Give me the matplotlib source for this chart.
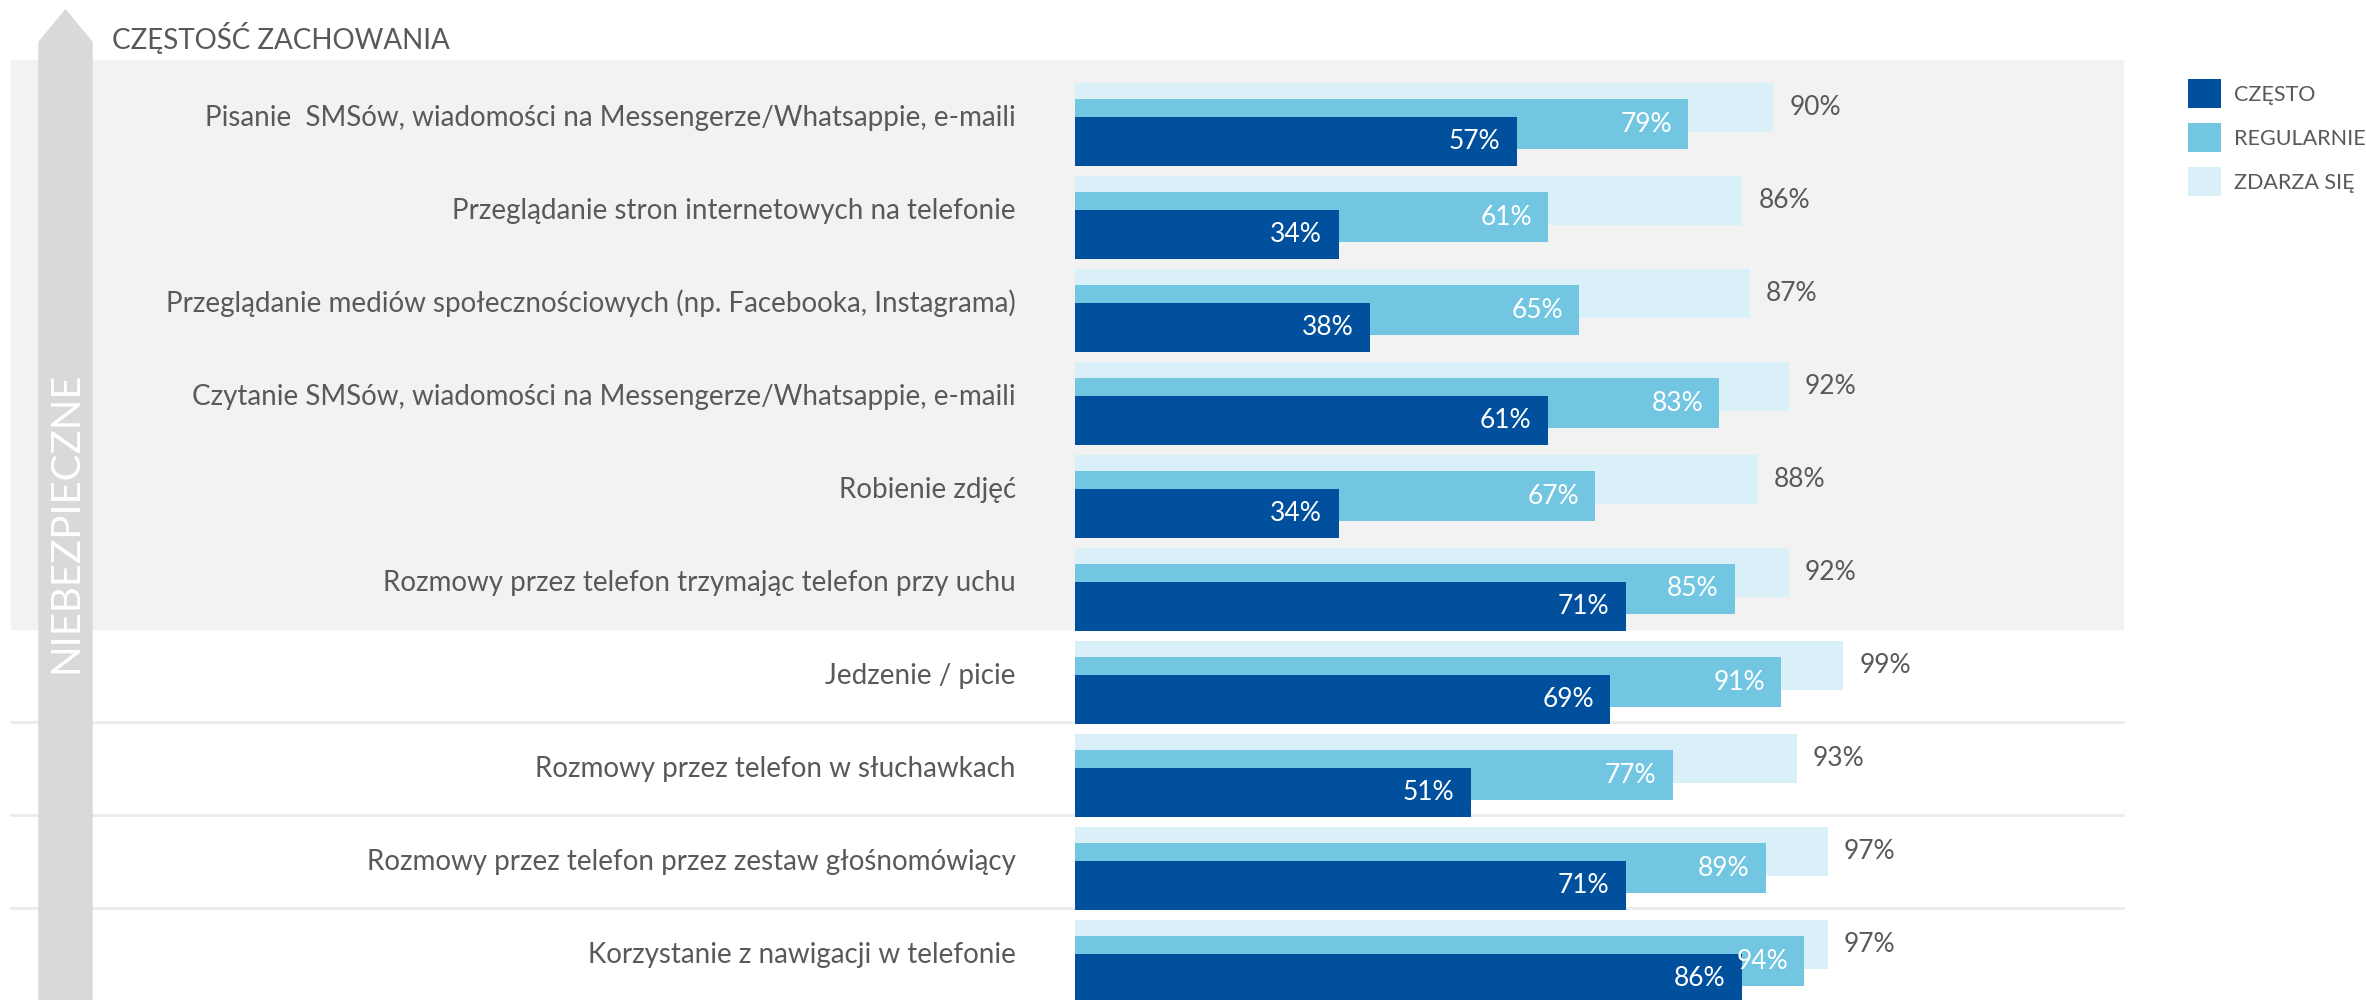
import numpy as np
import matplotlib
matplotlib.use("Agg")
import matplotlib.pyplot as plt
from matplotlib.patches import Rectangle, Polygon
from matplotlib.transforms import blended_transform_factory

# dane z wykresu (procent kierowców)
czynnosci = [
    "Pisanie  SMSów, wiadomości na Messengerze/Whatsappie, e-maili",
    "Przeglądanie stron internetowych na telefonie",
    "Przeglądanie mediów społecznościowych (np. Facebooka, Instagrama)",
    "Czytanie SMSów, wiadomości na Messengerze/Whatsappie, e-maili",
    "Robienie zdjęć",
    "Rozmowy przez telefon trzymając telefon przy uchu",
    "Jedzenie / picie",
    "Rozmowy przez telefon w słuchawkach",
    "Rozmowy przez telefon przez zestaw głośnomówiący",
    "Korzystanie z nawigacji w telefonie",
]
czesto = [57, 34, 38, 61, 34, 71, 69, 51, 71, 86]
regularnie = [79, 61, 65, 83, 67, 85, 91, 77, 89, 94]
zdarza_sie = [90, 86, 87, 92, 88, 92, 99, 93, 97, 97]
serie = ["CZĘSTO", "REGULARNIE", "ZDARZA SIĘ"]

# kolory
ciemny = "#00509E"
sredni = "#72C6E2"
jasny = "#DAF0F8"
tekst = "#595959"

plt.rcParams["font.family"] = ["Lato", "DejaVu Sans"]

W, H = 2366, 1000
fig = plt.figure(figsize=(W / 100, H / 100), dpi=100)

# os ze slupkami: 0-100% to piksele 1075-1851, jeden wiersz = 93 px
ax = fig.add_axes([1075 / W, 0, 776 / W, 1])
ax.set_xlim(0, 100)
ax.set_ylim((H - 83) / 93, -83 / 93)
ax.patch.set_visible(False)
for s in ax.spines.values():
    s.set_visible(False)
ax.set_xticks([])

rows = np.arange(len(czynnosci))
b3 = ax.barh(rows, zdarza_sie, height=49 / 93, align="edge", color=jasny, zorder=2)
b2 = ax.barh(rows + 16 / 93, regularnie, height=50 / 93, align="edge", color=sredni, zorder=3)
b1 = ax.barh(rows + 34 / 93, czesto, height=49 / 93, align="edge", color=ciemny, zorder=4)

# etykiety wierszy
ax.set_yticks(rows + 32 / 93, czynnosci)
ax.tick_params(axis="y", length=0, pad=42.5, labelsize=20, labelcolor=tekst)

# wartosci
for r in rows:
    ax.annotate(f"{zdarza_sie[r]}%", (zdarza_sie[r], r + 24.5 / 93), xytext=(11.5, 0),
                textcoords="offset points", ha="left", va="center", fontsize=19, color=tekst, zorder=5)
    ax.annotate(f"{regularnie[r]}%", (regularnie[r], r + 41 / 93), xytext=(-11.5, 0),
                textcoords="offset points", ha="right", va="center", fontsize=19, color="white", zorder=5)
    ax.annotate(f"{czesto[r]}%", (czesto[r], r + 58.5 / 93), xytext=(-12, 0),
                textcoords="offset points", ha="right", va="center", fontsize=19, color="white", zorder=5)

# szare tlo dla zachowan niebezpiecznych i linie podzialu
tr = blended_transform_factory(fig.transFigure, ax.transData)
ax.add_patch(Rectangle((11 / W, -23 / 93), (2123 - 11) / W, 6 - 12 / 93 + 23 / 93,
                       transform=tr, color="#F2F2F2", zorder=0, clip_on=False))
for r in [7, 8, 9]:
    ax.plot([11 / W, 2123 / W], [r - 12 / 93] * 2, transform=tr, color="#EBEBEB",
            lw=2, zorder=0, clip_on=False)

# strzalka po lewej
pts = [(39, 1000), (39, 42), (65.5, 10), (92, 42), (92, 1000)]
fig.patches.append(Polygon([(x / W, 1 - y / H) for x, y in pts], closed=True,
                           transform=fig.transFigure, color="#D9D9D9", zorder=1))
fig.text(66 / W, 1 - 522 / H, "NIEBEZPIECZNE", rotation=90, ha="center", va="center",
         fontsize=29, color="white", zorder=2)
fig.text(112 / W, 1 - 38 / H, "CZĘSTOŚĆ ZACHOWANIA", ha="left", va="center",
         fontsize=20, color=tekst)

fig.legend(handles=[b1, b2, b3], labels=serie, loc="upper left",
           bbox_to_anchor=(2188 / W, 1 - 79 / H), frameon=False, fontsize=15.5,
           labelcolor=tekst, handlelength=1.54, handleheight=1.7,
           labelspacing=0.7, handletextpad=0.6, borderpad=0, borderaxespad=0)

fig.savefig("out.png", dpi=100)
